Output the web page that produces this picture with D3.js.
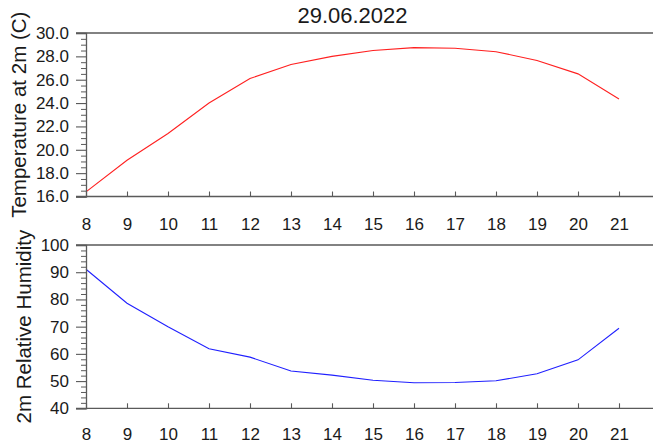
<!DOCTYPE html>
<html>
<head>
<meta charset="utf-8">
<script src="https://cdn.jsdelivr.net/npm/d3@7"></script>
<style>
  html, body { margin: 0; padding: 0; background: #fff; overflow: hidden; }
  svg { display: block; font-family: "Liberation Sans", Arial, Helvetica, sans-serif; }
</style>
</head>
<body>
<svg id="chart" width="653" height="443"></svg>
<script>
// Hourly meteogram for one day: 2 m temperature and 2 m relative humidity
const title = "29.06.2022";
const hours = [8, 9, 10, 11, 12, 13, 14, 15, 16, 17, 18, 19, 20, 21];
const temperature = [16.4, 19.1, 21.4, 24.0, 26.1, 27.3, 28.0, 28.5, 28.75, 28.7, 28.4, 27.65, 26.5, 24.35];
const humidity = [91.1, 78.6, 70.0, 61.9, 58.8, 53.7, 52.2, 50.3, 49.4, 49.5, 50.1, 52.7, 57.8, 69.4];
const tempTicks = [16, 18, 20, 22, 24, 26, 28, 30];
const humTicks = [40, 50, 60, 70, 80, 90, 100];

const svg = d3.select("#chart");
const frameColor = "#5a5a5a";
const textColor = "#1a1a1a";

// shared time axis; the right end of the frame runs past the canvas edge
const x = d3.scaleLinear().domain([8, 22]).range([86, 660]);

const panels = [
  {
    values: temperature, color: "#ff2020",
    y: d3.scaleLinear().domain([16, 30]).range([196.5, 33]),
    ticks: tempTicks, minorStep: 0.5, fmt: d3.format(".1f"),
    label: "Temperature at 2m (C)", labelX: 26,
    xLabelY: 230
  },
  {
    values: humidity, color: "#2020ff",
    y: d3.scaleLinear().domain([40, 100]).range([408.3, 245]),
    ticks: humTicks, minorStep: 2, fmt: d3.format("d"),
    label: "2m Relative Humidity", labelX: 31,
    xLabelY: 440
  }
];

panels.forEach(p => {
  const g = svg.append("g");
  const [y0, y1] = p.y.range();
  const [xl, xr] = x.range();

  // frame (top, bottom, right)
  g.append("path")
    .attr("d", `M${xl - 10},${y1}H${xr}V${y0}H${xl - 10}`)
    .attr("fill", "none").attr("stroke", frameColor).attr("stroke-width", 1.3);

  // data line
  const line = d3.line().x((d, i) => x(hours[i])).y(d => p.y(d));
  g.append("path")
    .datum(p.values)
    .attr("d", line)
    .attr("fill", "none").attr("stroke", p.color).attr("stroke-width", 1.1);

  // left axis: major ticks outward with labels
  const left = g.append("g").attr("transform", `translate(${xl},0)`)
    .call(d3.axisLeft(p.y).tickValues(p.ticks).tickFormat(p.fmt).tickSize(10).tickPadding(7));
  left.select(".domain").attr("stroke", frameColor).attr("stroke-width", 1.3);
  left.selectAll(".tick line").attr("stroke", frameColor).attr("stroke-width", 1.1);
  left.selectAll(".tick text").attr("fill", textColor).attr("font-size", 17)
    .attr("font-family", "Liberation Sans, Arial, sans-serif");

  // minor ticks on the left axis
  const [d0, d1] = p.y.domain();
  const minors = d3.range(d0, d1 + 1e-9, p.minorStep)
    .filter(v => !p.ticks.some(t => Math.abs(t - v) < 1e-9));
  const minor = g.append("g").attr("transform", `translate(${xl},0)`)
    .call(d3.axisLeft(p.y).tickValues(minors).tickFormat("").tickSize(5));
  minor.select(".domain").remove();
  minor.selectAll(".tick line").attr("stroke", frameColor).attr("stroke-width", 1);

  // bottom axis: inward ticks, labels below
  const bottom = g.append("g").attr("transform", `translate(0,${y0})`)
    .call(d3.axisBottom(x).tickValues(hours).tickFormat(d3.format("d")).tickSize(-5).tickPadding(0));
  bottom.select(".domain").remove();
  bottom.selectAll(".tick line").attr("stroke", frameColor).attr("stroke-width", 1.1);
  bottom.selectAll(".tick text")
    .attr("fill", textColor).attr("font-size", 17)
    .attr("font-family", "Liberation Sans, Arial, sans-serif")
    .attr("dy", null)
    .attr("y", p.xLabelY - y0);

  // y axis title
  g.append("text")
    .attr("transform", `translate(${p.labelX},${(y0 + y1) / 2}) rotate(-90)`)
    .attr("text-anchor", "middle")
    .attr("fill", textColor)
    .attr("font-size", 20.5)
    .text(p.label);
});

// chart title
svg.append("text")
  .attr("x", 352.5).attr("y", 23.3)
  .attr("text-anchor", "middle")
  .attr("fill", textColor)
  .attr("font-size", 22)
  .text(title);
</script>
</body>
</html>
